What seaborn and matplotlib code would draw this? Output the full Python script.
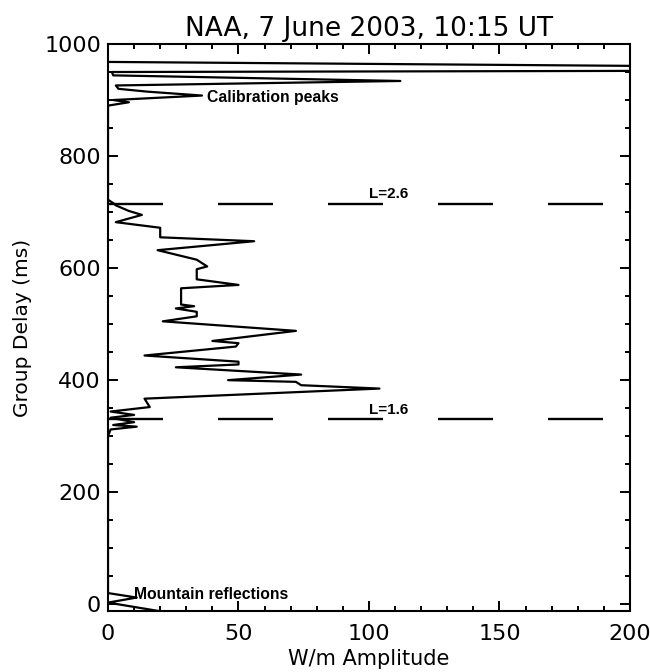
import matplotlib
matplotlib.use('Agg')
import matplotlib.pyplot as plt
import pandas as pd
import seaborn as sns

# group delay (ms) and amplitude of the received signal
delay_ms = [968, 954, 950, 944, 934, 926, 920, 915, 908, 900, 896, 890,
            880, 800, 722, 716, 712, 702, 695, 682, 672, 655, 648, 632,
            615, 603, 598, 580, 570, 564, 535, 532, 528, 522, 514, 505,
            488, 470, 466, 460, 444, 433, 428, 423, 410, 400, 397, 391,
            385, 367, 352, 344, 338, 333, 325, 320, 317, 312, 300, 200,
            100, 20, 12, 3, -14]
amplitude = [0, 400, 1.5, 2, 112, 3, 4, 15, 36, 2, 8, 0,
             0, 0, 0, 2, 3, 8, 13, 3, 20, 20, 56, 19,
             34, 38, 34, 34, 50, 28, 28, 33, 26, 34, 34, 21,
             72, 40, 50, 49, 14, 50, 50, 26, 74, 46, 72, 74,
             104, 14, 16, 1, 10, 1, 10, 2, 11, 1, 0, 0,
             0, 0, 11, 0, 22]

# L-shell markers
l_shells = ['L=2.6', 'L=1.6']
l_delay = [715, 330]

df = pd.DataFrame({'delay': delay_ms, 'amp': amplitude})

sns.set_style('ticks')
plt.rcParams['font.family'] = ['DejaVu Sans']
plt.rcParams['lines.scale_dashes'] = False
plt.rcParams['text.color'] = 'black'
plt.rcParams['axes.labelcolor'] = 'black'

fig = plt.figure(figsize=(6.5, 6.72), dpi=100)
ax = fig.add_axes([108 / 650, 61 / 672, 522 / 650, 567 / 672])

sns.lineplot(data=df, x='amp', y='delay', sort=False, estimator=None,
             color='black', linewidth=1.6, ax=ax)

for name, d in zip(l_shells, l_delay):
    ax.axhline(d, color='black', linewidth=1.7, linestyle=(0, (39.6, 39.6)))
    ax.text(100, d + 4, name, fontsize=11, fontweight='bold',
            family='Liberation Sans', va='bottom', ha='left', color='black')

ax.text(38, 905, 'Calibration peaks', fontsize=11.3, fontweight='bold',
        family='Liberation Sans', va='center', ha='left', color='black')
ax.text(10, 18, 'Mountain reflections', fontsize=11.3, fontweight='bold',
        family='Liberation Sans', va='center', ha='left', color='black')

ax.set_xlim(0, 200)
ax.set_ylim(-12, 1000)
ax.set_xticks([0, 50, 100, 150, 200])
ax.set_xticks(range(0, 201, 10), minor=True)
ax.set_yticks([0, 200, 400, 600, 800, 1000])
ax.set_yticks(range(0, 1001, 50), minor=True)
ax.tick_params(which='both', direction='in', top=True, right=True,
               width=1.4, colors='black')
ax.tick_params(which='major', length=7.2, labelsize=16)
ax.tick_params(which='minor', length=3.6)
ax.tick_params(axis='x', pad=9)
ax.tick_params(axis='y', pad=5)
for s in ax.spines.values():
    s.set_linewidth(1.5)
    s.set_color('black')

ax.set_xlabel('W/m Amplitude', fontsize=15, labelpad=4, color='black')
ax.set_ylabel('Group Delay (ms)', fontsize=14.5, labelpad=9, color='black')
ax.set_title('NAA, 7 June 2003, 10:15 UT', fontsize=19, pad=6, color='black')

fig.savefig('out.png', dpi=100)
